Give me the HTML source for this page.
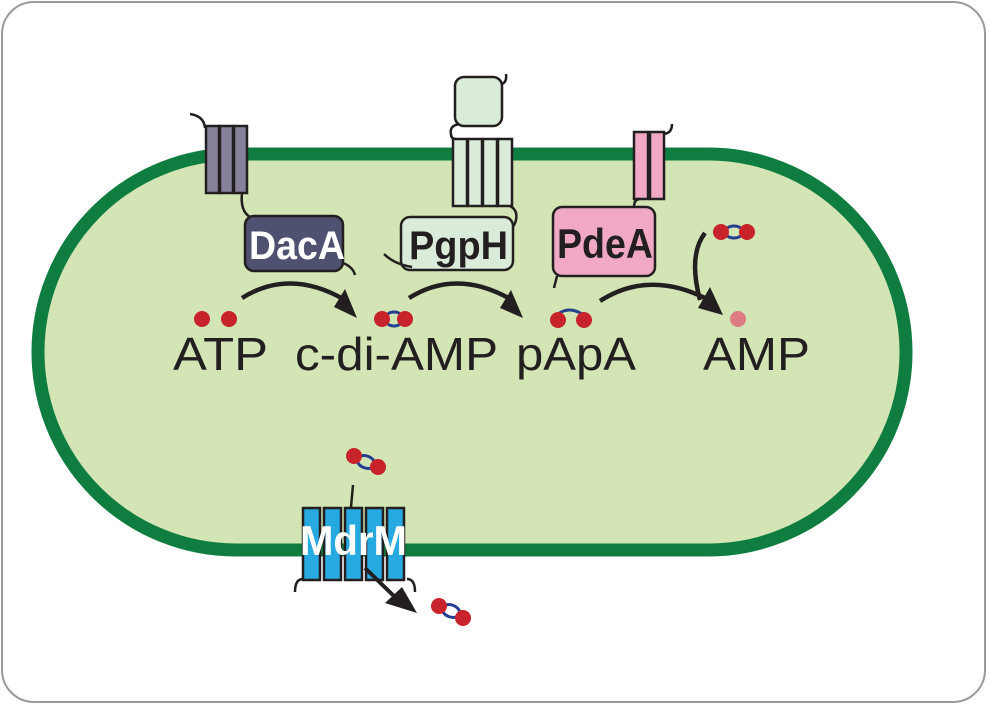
<!DOCTYPE html>
<html><head><meta charset="utf-8"><style>
html,body{margin:0;padding:0;background:#fff;width:988px;height:705px;overflow:hidden}
svg{display:block}
text{font-family:"Liberation Sans",sans-serif}
</style></head><body>
<svg width="988" height="705" viewBox="0 0 988 705">
<rect x="2" y="2" width="983" height="700" rx="32" fill="#fff" stroke="#9a9a9a" stroke-width="2"/>
<rect x="38" y="154" width="868" height="396" rx="198" fill="#d3e5b4" stroke="#0f7d3f" stroke-width="13"/>

<!-- DacA -->
<g stroke="#231f20" stroke-width="2.5">
<path d="M190 114 q14 2 15 14" fill="none"/>
<rect x="206" y="126" width="13" height="67" fill="#87829c"/>
<rect x="220" y="126" width="13" height="67" fill="#87829c"/>
<rect x="234" y="126" width="13" height="67" fill="#87829c"/>
<path d="M242 193 q-2 18 8 24" fill="none"/>
<rect x="245" y="216" width="98" height="55" rx="9" fill="#4e5170"/>
<path d="M343 263 q10 4 12 12" fill="none"/>
</g>
<text x="249" y="259" font-size="40" font-weight="bold" fill="#fff" textLength="96" lengthAdjust="spacingAndGlyphs">DacA</text>

<!-- PgpH -->
<g stroke="#231f20" stroke-width="2.5">
<rect x="455" y="77" width="47" height="49" rx="9" fill="#daebd9"/>
<path d="M502 84 q5 -2 4 -10" fill="none"/>
<path d="M459 124 q-10 2 -8 10 q0 5 5 5" fill="none"/>
<rect x="453" y="139" width="14" height="67" fill="#daebd9"/>
<rect x="468" y="139" width="14" height="67" fill="#daebd9"/>
<rect x="483" y="139" width="14" height="67" fill="#daebd9"/>
<rect x="498" y="139" width="14" height="67" fill="#daebd9"/>
<path d="M510 206 q8 4 6 14 q-2 8 -6 8" fill="none"/>
<rect x="401" y="217" width="112" height="53" rx="9" fill="#daebd9"/>
<path d="M384 254 q10 10 28 13" fill="none"/>
</g>
<text x="409" y="259" font-size="40" font-weight="bold" fill="#231f20" textLength="99" lengthAdjust="spacingAndGlyphs">PgpH</text>

<!-- PdeA -->
<g stroke="#231f20" stroke-width="2.5">
<rect x="634" y="132" width="14" height="67" fill="#f0a8c4"/>
<rect x="650" y="132" width="14" height="67" fill="#f0a8c4"/>
<path d="M664 134 q8 -1 8 -10" fill="none"/>
<path d="M640 199 q-6 0 -6 8" fill="none"/>
<rect x="553" y="207" width="102" height="69" rx="9" fill="#f0a8c4"/>
<path d="M557 276 l-3 12" fill="none"/>
</g>
<text x="557" y="258" font-size="42" font-weight="bold" fill="#231f20" textLength="96" lengthAdjust="spacingAndGlyphs">PdeA</text>

<!-- arrows -->
<g fill="none" stroke="#231f20" stroke-width="4.5">
<path d="M242 298 Q290 268 345 300"/>
<path d="M409 298 Q457 268 512 300"/>
<path d="M600 301 Q648 270 705 298"/>
<path d="M705 233 Q688 255 700 300"/>
</g>
<g fill="#231f20">
<polygon points="357,318 334,307 345,289"/>
<polygon points="523,318 500,308 511,290"/>
<polygon points="723,315 698,308 710,287"/>
</g>

<!-- molecules -->
<g>
<circle cx="202" cy="319" r="8" fill="#c8222a"/><circle cx="229" cy="319" r="8" fill="#c8222a"/>
<ellipse cx="394" cy="319" rx="9" ry="7" fill="none" stroke="#243f8f" stroke-width="3"/>
<circle cx="382" cy="319" r="8" fill="#c8222a"/><circle cx="405" cy="319" r="8" fill="#c8222a"/>
<path d="M558 314 q11 -8 24 0" fill="none" stroke="#243f8f" stroke-width="3"/>
<circle cx="558" cy="320" r="8" fill="#c8222a"/><circle cx="584" cy="320" r="8" fill="#c8222a"/>
<circle cx="738" cy="319" r="8" fill="#dd7b82"/>
<ellipse cx="734" cy="232" rx="9" ry="6" fill="none" stroke="#243f8f" stroke-width="3"/>
<circle cx="721" cy="232" r="8" fill="#c8222a"/><circle cx="747" cy="232" r="8" fill="#c8222a"/>
<ellipse cx="366" cy="462" rx="9" ry="6" fill="none" stroke="#243f8f" stroke-width="3" transform="rotate(20 366 462)"/>
<circle cx="354" cy="456" r="8" fill="#c8222a"/><circle cx="378" cy="467" r="8" fill="#c8222a"/>
<ellipse cx="451" cy="611" rx="9" ry="6" fill="none" stroke="#243f8f" stroke-width="3" transform="rotate(20 451 611)"/>
<circle cx="439" cy="606" r="8" fill="#c8222a"/><circle cx="463" cy="618" r="8" fill="#c8222a"/>
</g>

<g font-size="46" fill="#231f20">
<text x="173" y="370" textLength="95" lengthAdjust="spacingAndGlyphs">ATP</text>
<text x="295" y="370" textLength="203" lengthAdjust="spacingAndGlyphs">c-di-AMP</text>
<text x="516" y="370" textLength="120" lengthAdjust="spacingAndGlyphs">pApA</text>
<text x="703" y="370" textLength="107" lengthAdjust="spacingAndGlyphs">AMP</text>
</g>

<!-- MdrM -->
<g stroke="#231f20" stroke-width="2.5">
<path d="M353 485 l-2 22" fill="none"/>
<rect x="303" y="508" width="17" height="72" fill="#27a9e1"/>
<rect x="324" y="508" width="17" height="72" fill="#27a9e1"/>
<rect x="345" y="508" width="17" height="72" fill="#27a9e1"/>
<rect x="366" y="508" width="17" height="72" fill="#27a9e1"/>
<rect x="387" y="508" width="17" height="72" fill="#27a9e1"/>
<path d="M295 592 q0 -13 8 -13 M415 592 q0 -13 -8 -13" fill="none"/>
<path d="M365 568 L398 600" fill="none" stroke-width="4"/>
</g>
<polygon points="417,613 385,603 402,587" fill="#231f20"/>
<text x="300" y="555" font-size="42" font-weight="bold" fill="#fff" textLength="107" lengthAdjust="spacingAndGlyphs">MdrM</text>
</svg>
</body></html>
